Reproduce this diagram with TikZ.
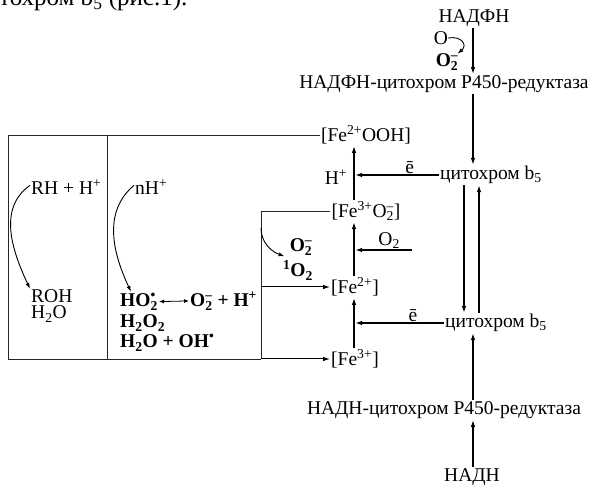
\documentclass[tikz,border=0pt]{standalone}
\usepackage{fontspec}
\setmainfont{Liberation Serif}
\usetikzlibrary{arrows.meta,positioning,calc}
\newcommand{\subsup}[2]{\rlap{\textsuperscript{#2}}\textsubscript{#1}}

\begin{document}
\begin{tikzpicture}[x=1pt,y=-1pt,
    every node/.style={font=\fontsize{19.5}{21}\selectfont, inner sep=1pt},
    bf/.style={font=\fontsize{19.5}{21}\selectfont\bfseries},
    arr/.style={-{Latex[length=7pt,width=4.5pt]}, line width=1.4pt},
    feed/.style={-{Latex[length=7pt,width=4.5pt]}, line width=1pt},
    bent/.style={-{Latex[length=6pt,width=4pt]}, line width=0.9pt},
    dbl/.style={{Latex[length=5pt,width=4pt]}-{Latex[length=5pt,width=4pt]}, line width=0.8pt},
    box/.style={line width=0.9pt, black!85},
  ]
  \useasboundingbox (0,0) rectangle (590,486);

  % text line cut at the top
  \node[anchor=base west, inner sep=0, font=\fontsize{25}{27}\selectfont] (frag) at (-1,6)
    {тохром b\textsubscript{5} (рис.1).};

  % Right: electron transport chain
  \coordinate (axis) at (473,0);
  \coordinate (dn) at (464,0);
  \coordinate (up) at (479,0);
  \node (nadph) at (474,18) {НАДФН};
  \node[inner sep=0] (ox) at (441,38) {O};
  \node[bf, inner sep=0] (o2top) at (447,62) {O\subsup{2}{--}};
  \node (redI) at (444,84) {НАДФН-цитохром Р450-редуктаза};
  \node (cybI) at (491,175) {цитохром b\textsubscript{5}};
  \node (cybII) at (496,323) {цитохром b\textsubscript{5}};
  \node (redII) at (444,410) {НАДН-цитохром Р450-редуктаза};
  \node (nadh) at (472,477) {НАДН};

  \draw[arr] (nadph.south -| axis) -- (redI.north -| axis);
  \draw[bent] (ox.east) to[out=10,in=40,looseness=1.9] ([xshift=-1pt]o2top.north east);
  \draw[arr] (redI.south -| axis) -- (cybI.north -| axis);
  \draw[arr] (cybI.south -| dn) -- (cybII.north -| dn);
  \draw[arr] (cybII.north -| up) -- (cybI.south -| up);
  \draw[arr] (redII.north -| axis) -- (cybII.south -| axis);
  \draw[arr] (nadh.north -| axis) -- (redII.south -| axis);

  % Middle: iron states of P450
  \coordinate (fex) at (354,0);
  \node (feooh) at (366,135) {[Fe\textsuperscript{2+}OOH]};
  \node (hplus) at (336,177) {H\textsuperscript{+}};
  \node (fe3o2) at (366,211) {[Fe\textsuperscript{3+}O\subsup{2}{--}]};
  \node (fe2) at (355,287) {[Fe\textsuperscript{2+}]};
  \node (fe3) at (355,359) {[Fe\textsuperscript{3+}]};

  \draw[arr] (fe3.north -| fex) -- (fe2.south -| fex);
  \draw[arr] (fe2.north -| fex) -- (fe3o2.south -| fex);
  \draw[arr] (fe3o2.north -| fex) -- (feooh.south -| fex);

  \draw[arr] (cybI.west) -- ([xshift=1pt]cybI.west -| fex)
    node[pos=0.35, above] {ē};
  \coordinate (o2src) at (412,250);
  \draw[arr] (o2src) -- ([xshift=1pt]o2src -| fex)
    node[pos=0.4, above] {O\textsubscript{2}};
  \draw[arr] (cybII.west) -- ([xshift=1pt]cybII.west -| fex)
    node[pos=0.35, above] {ē};

  % Left: side reactions
  \coordinate (boxl) at (8,0);
  \coordinate (divx) at (107,0);
  \coordinate (branch) at (261,0);
  \draw[box] (feooh.west) -- (feooh.west -| boxl) -- (fe3.west -| boxl)
    -- (fe3.west -| branch);
  \draw[box] (feooh.west -| divx) -- (fe3.west -| divx);
  \draw[box] (fe3o2.west) -- (fe3o2.west -| branch) -- (fe3.west -| branch);
  \draw[feed] (fe2.west -| branch) -- (fe2.west);
  \draw[feed] (fe3.west -| branch) -- (fe3.west);

  \node[bf, anchor=base] (o2m) at (301,252) {O\subsup{2}{--}};
  \node[bf, anchor=base] (singlet) at (298,277) {\textsuperscript{1}O\textsubscript{2}};
  \coordinate (kink) at (261,228);
  \draw[bent] (kink) to[out=-90,in=160] ([xshift=-4pt]o2m.south west);

  \node[anchor=base west] (rh) at (30,195) {RH + H\textsuperscript{+}};
  \node[anchor=base west] (roh) at (30,303) {ROH};
  \node[anchor=base west] (h2o) at (30,319) {H\textsubscript{2}O};
  \draw[bent] ([yshift=2pt]rh.west) to[out=215,in=115] (roh.north west);

  \node[anchor=base west] (nh) at (134,195) {nH\textsuperscript{+}};
  \node[bf, anchor=base west] (ho2) at (119,307) {HO\subsup{2}{\textbullet}};
  \node[bf, anchor=base west] (o2h) at (189,307) {O\subsup{2}{--} + H\textsuperscript{+}};
  \node[bf, anchor=base west] (h2o2) at (119,328) {H\textsubscript{2}O\textsubscript{2}};
  \node[bf, anchor=base west] (h2ooh) at (119,348) {H\textsubscript{2}O + OH\textsuperscript{\textbullet}};
  \draw[bent] ([yshift=2pt]nh.west) to[out=220,in=115] ([xshift=-8pt]ho2.north);
  \draw[dbl] (ho2.east) -- (o2h.west);

\end{tikzpicture}
\end{document}
